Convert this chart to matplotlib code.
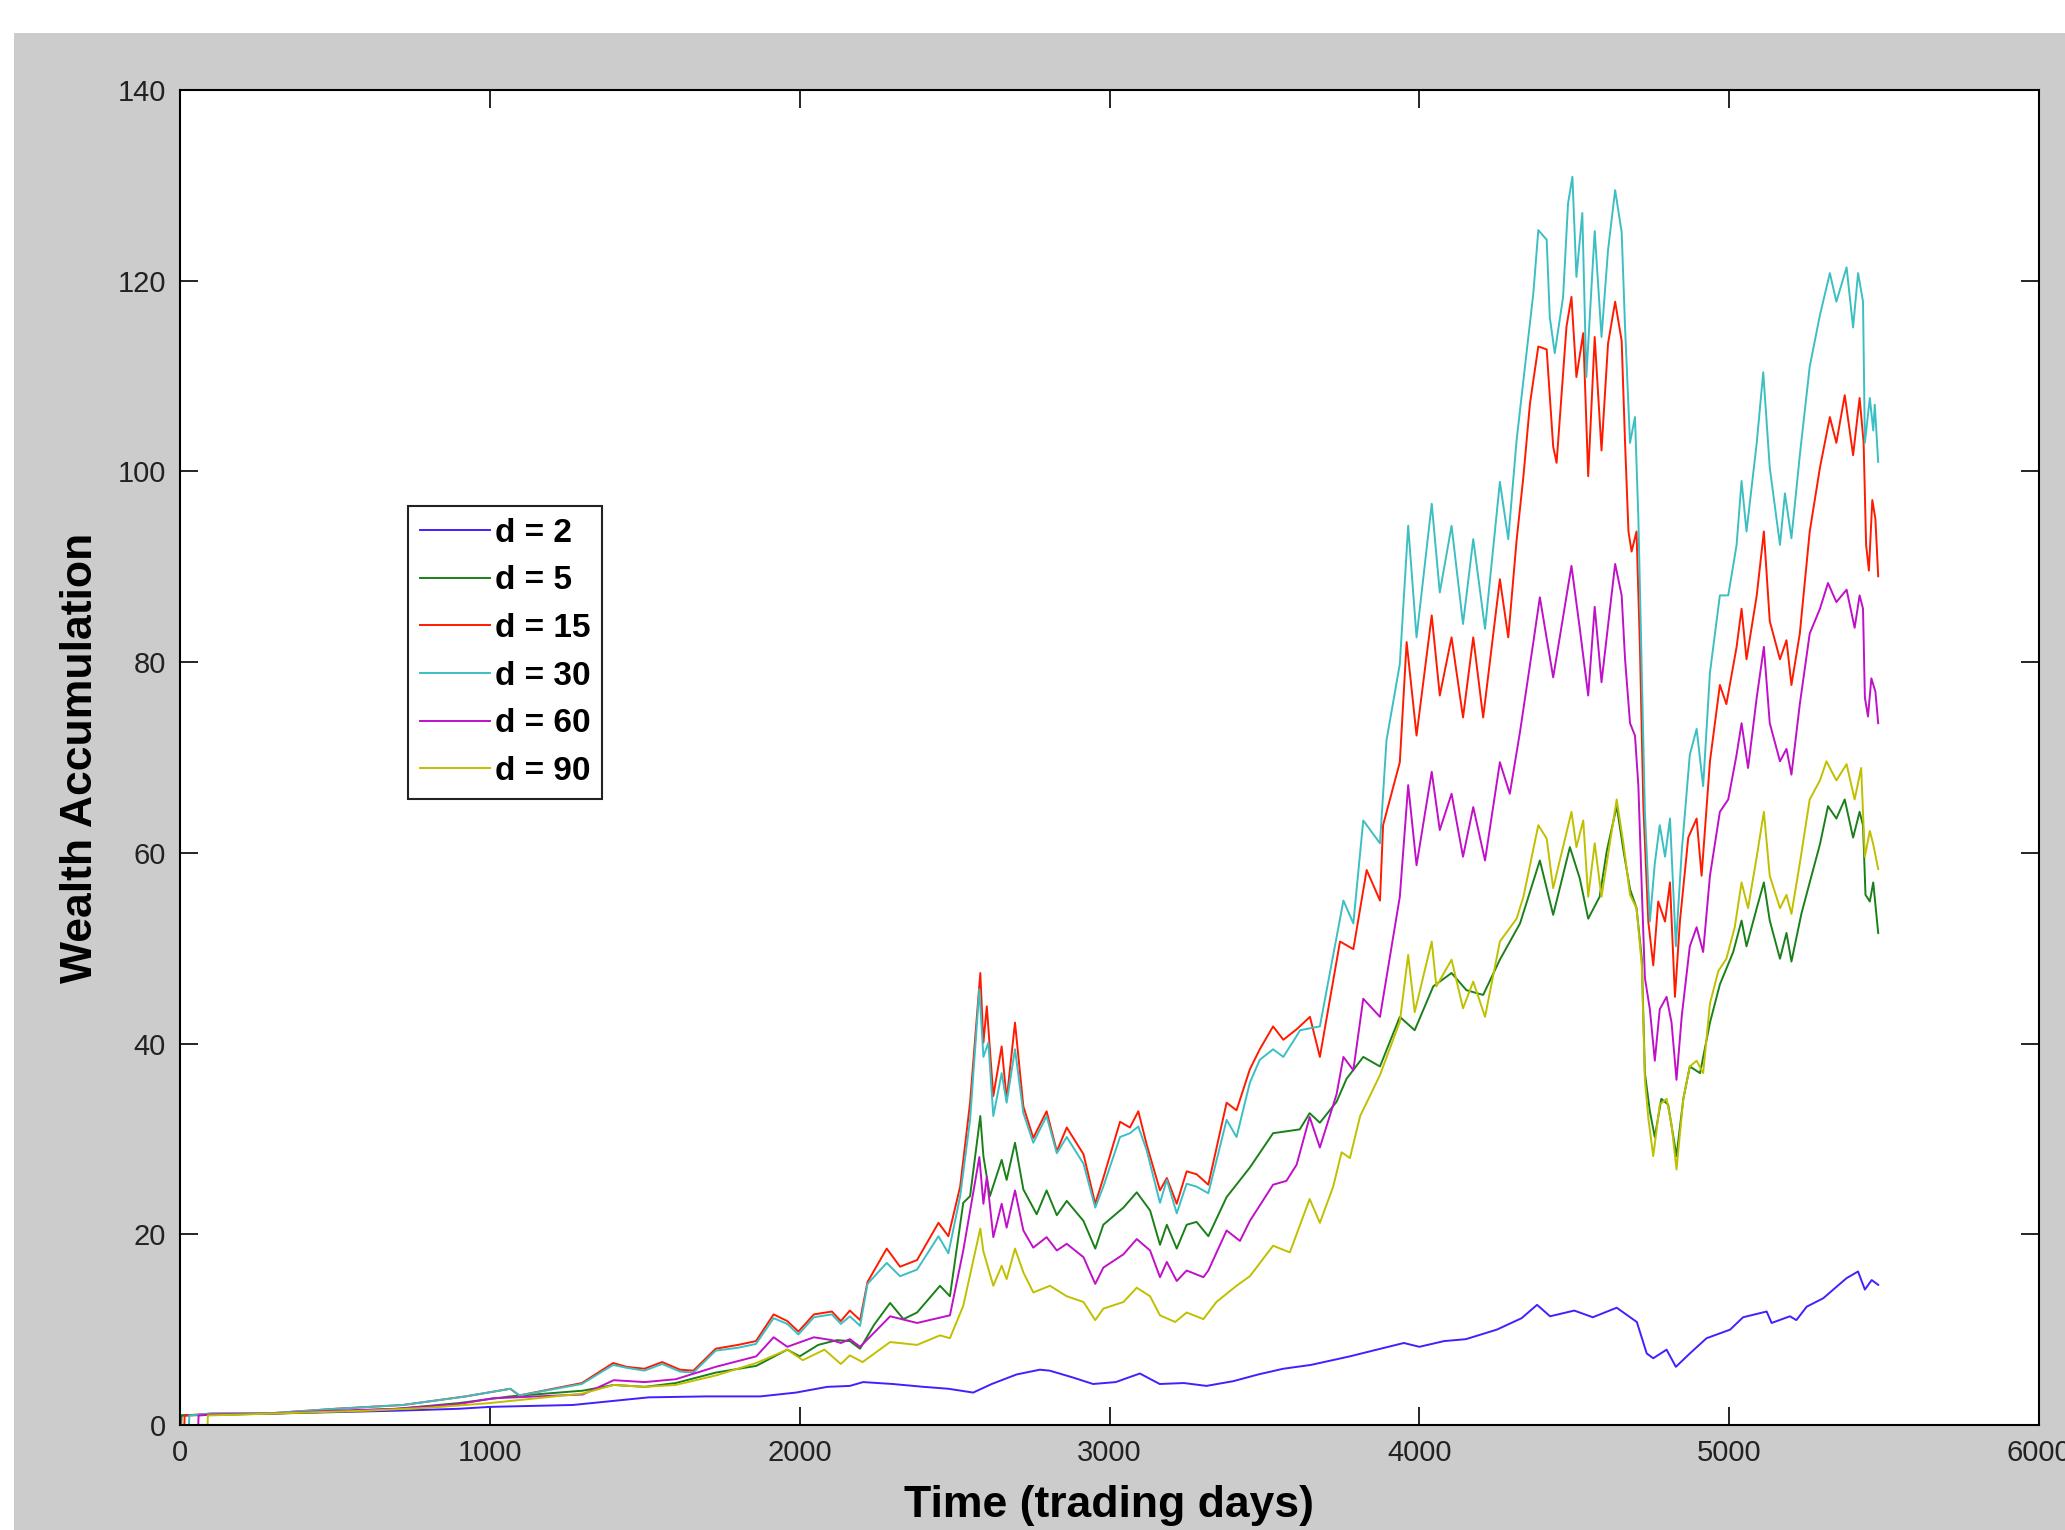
import matplotlib
matplotlib.use("Agg")
import matplotlib.pyplot as plt
from matplotlib.patches import Rectangle

plt.rcParams["font.family"] = ["Liberation Sans", "DejaVu Sans"]

# ---- data (trading day, wealth) ----
days_d2 = [0, 1, 2, 100, 300, 500, 700, 900, 1000, 1268, 1513, 1700, 1873, 1988, 2089, 2162,
           2205, 2300, 2400, 2480, 2560, 2620, 2700, 2775, 2807, 2880, 2947, 3020, 3098, 3162,
           3240, 3313, 3400, 3480, 3561, 3650, 3776, 3850, 3950, 4000, 4080, 4150, 4250, 4330,
           4380, 4422, 4500, 4560, 4637, 4702, 4734, 4755, 4798, 4828, 4873, 4927, 5003, 5045,
           5121, 5137, 5196, 5217, 5250, 5304, 5336, 5379, 5416, 5438, 5460, 5481]
wealth_d2 = [1, 0, 1, 1.1, 1.2, 1.35, 1.5, 1.7, 1.9, 2.1, 2.9, 3.0, 3.0, 3.4, 4.0, 4.1,
             4.5, 4.3, 4.0, 3.8, 3.4, 4.3, 5.3, 5.8, 5.7, 5.0, 4.3, 4.5, 5.4, 4.3,
             4.4, 4.1, 4.6, 5.3, 5.9, 6.3, 7.2, 7.8, 8.6, 8.2, 8.8, 9.0, 10.0, 11.2,
             12.6, 11.4, 12.0, 11.3, 12.3, 10.8, 7.5, 7.0, 7.9, 6.1, 7.5, 9.1, 10.0, 11.3,
             11.9, 10.7, 11.4, 11.0, 12.4, 13.3, 14.2, 15.4, 16.1, 14.2, 15.2, 14.7]

days_d5 = [0, 1, 4, 5, 100, 300, 500, 700, 900, 1066, 1300, 1400, 1500, 1600, 1730, 1860,
           1960, 2000, 2060, 2120, 2162, 2195, 2240, 2292, 2335, 2379, 2453, 2485, 2528, 2550,
           2583, 2593, 2614, 2652, 2668, 2695, 2722, 2765, 2797, 2830, 2862, 2916, 2954, 2980,
           3045, 3088, 3131, 3163, 3185, 3217, 3249, 3281, 3319, 3378, 3453, 3528, 3614, 3646,
           3679, 3733, 3765, 3819, 3873, 3937, 3985, 4045, 4104, 4152, 4206, 4260, 4325, 4389,
           4432, 4486, 4518, 4545, 4582, 4605, 4637, 4659, 4680, 4701, 4718, 4728, 4744, 4760,
           4781, 4803, 4830, 4852, 4873, 4906, 4938, 4970, 5013, 5040, 5056, 5089, 5112, 5131,
           5164, 5185, 5201, 5233, 5260, 5293, 5319, 5346, 5373, 5400, 5421, 5432, 5440, 5454,
           5465, 5481]
wealth_d5 = [1, 0, 0, 1, 1.05, 1.2, 1.4, 1.7, 2.3, 3.0, 3.6, 4.2, 4.0, 4.4, 5.5, 6.2,
             7.9, 7.2, 8.4, 8.9, 8.8, 8.0, 10.5, 12.8, 11.1, 11.8, 14.6, 13.5, 23.3, 24.0,
             32.4, 28.2, 24.0, 27.8, 25.7, 29.6, 24.7, 22.1, 24.6, 22.0, 23.5, 21.4, 18.5, 21.0,
             22.8, 24.4, 22.5, 18.9, 21.0, 18.5, 21.0, 21.3, 19.8, 23.9, 27.0, 30.6, 31.0, 32.7,
             31.7, 33.9, 36.3, 38.6, 37.6, 42.8, 41.4, 46.0, 47.4, 45.6, 45.1, 48.8, 52.6, 59.2,
             53.5, 60.6, 57.3, 53.1, 55.4, 60.2, 64.9, 60.2, 56.2, 54.2, 48.9, 36.9, 32.9, 30.2,
             34.2, 33.6, 28.2, 34.2, 37.6, 36.9, 42.2, 46.2, 49.6, 52.9, 50.2, 54.2, 56.9, 52.9,
             48.9, 51.6, 48.6, 53.6, 56.9, 60.9, 64.9, 63.6, 65.6, 61.6, 64.3, 62.9, 55.6, 54.9,
             56.9, 51.6]

days_d15 = [0, 1, 14, 15, 100, 300, 500, 720, 922, 1066, 1095, 1297, 1398, 1441, 1499, 1556,
            1614, 1657, 1729, 1801, 1859, 1916, 1960, 1996, 2046, 2104, 2133, 2162, 2195, 2219,
            2281, 2324, 2379, 2448, 2480, 2518, 2550, 2583, 2593, 2604, 2625, 2652, 2668, 2695,
            2722, 2754, 2797, 2830, 2862, 2916, 2954, 2980, 3034, 3066, 3093, 3120, 3163, 3185,
            3217, 3249, 3281, 3319, 3378, 3410, 3453, 3485, 3528, 3561, 3604, 3647, 3679, 3744,
            3787, 3830, 3873, 3883, 3937, 3959, 3991, 4040, 4066, 4104, 4141, 4174, 4206, 4260,
            4287, 4314, 4336, 4357, 4384, 4411, 4432, 4443, 4475, 4491, 4507, 4529, 4545, 4566,
            4588, 4609, 4632, 4653, 4664, 4675, 4685, 4701, 4712, 4723, 4739, 4755, 4771, 4793,
            4809, 4825, 4841, 4868, 4895, 4911, 4938, 4970, 4991, 5024, 5040, 5056, 5089, 5112,
            5131, 5164, 5185, 5201, 5228, 5260, 5293, 5325, 5346, 5373, 5400, 5421, 5434, 5442,
            5451, 5462, 5472, 5481]
wealth_d15 = [1, 0, 0, 1, 1.2, 1.25, 1.7, 2.1, 3.0, 3.8, 3.1, 4.4, 6.5, 6.1, 5.9, 6.6,
              5.8, 5.7, 8.0, 8.4, 8.8, 11.6, 10.9, 9.8, 11.6, 11.9, 10.9, 12.0, 11.0, 15.0,
              18.5, 16.6, 17.3, 21.2, 19.8, 25.0, 33.8, 47.4, 40.1, 43.9, 34.5, 39.7, 34.1, 42.2,
              33.4, 30.1, 32.9, 28.7, 31.2, 28.4, 23.2, 25.9, 31.8, 31.2, 32.9, 29.4, 24.6, 25.9,
              23.2, 26.6, 26.3, 25.2, 33.8, 33.0, 37.3, 39.4, 41.8, 40.4, 41.5, 42.8, 38.6, 50.7,
              49.9, 58.2, 55.0, 62.9, 69.5, 82.1, 72.3, 84.9, 76.5, 82.6, 74.2, 82.6, 74.2, 88.7,
              82.6, 92.8, 99.5, 107.1, 113.1, 112.8, 102.6, 100.9, 115.2, 118.3, 109.9, 114.5, 99.5, 114.1,
              102.2, 113.4, 117.8, 113.7, 103.0, 93.7, 91.6, 93.7, 81.6, 64.9, 52.8, 48.2, 54.9, 52.8,
              56.9, 44.9, 52.8, 61.6, 63.6, 57.6, 69.6, 77.6, 75.6, 81.6, 85.6, 80.3, 87.0, 93.7,
              84.3, 80.3, 82.3, 77.6, 83.0, 93.7, 100.4, 105.7, 103.0, 108.0, 101.7, 107.7, 103.0, 92.3,
              89.6, 97.0, 95.0, 89.0]

days_d30 = [0, 1, 29, 30, 100, 300, 504, 720, 922, 1066, 1095, 1297, 1398, 1441, 1499, 1556,
            1614, 1657, 1729, 1801, 1859, 1916, 1960, 1996, 2046, 2104, 2133, 2162, 2195, 2219,
            2281, 2324, 2379, 2448, 2480, 2518, 2550, 2580, 2593, 2609, 2625, 2652, 2668, 2695,
            2722, 2754, 2797, 2830, 2862, 2916, 2954, 2980, 3034, 3066, 3093, 3120, 3163, 3185,
            3217, 3249, 3281, 3319, 3378, 3410, 3453, 3485, 3528, 3561, 3604, 3615, 3679, 3755,
            3787, 3819, 3873, 3894, 3937, 3964, 3991, 4040, 4066, 4104, 4141, 4174, 4212, 4260,
            4287, 4314, 4347, 4368, 4384, 4411, 4421, 4437, 4464, 4480, 4494, 4507, 4526, 4539,
            4566, 4588, 4609, 4632, 4653, 4664, 4680, 4696, 4707, 4718, 4728, 4744, 4760, 4776,
            4793, 4809, 4828, 4847, 4873, 4895, 4916, 4938, 4970, 4997, 5024, 5040, 5056, 5089,
            5110, 5131, 5164, 5180, 5201, 5228, 5260, 5293, 5325, 5346, 5379, 5400, 5416, 5432,
            5438, 5454, 5465, 5470, 5481]
wealth_d30 = [1, 0, 0, 1, 1.2, 1.25, 1.7, 2.1, 3.0, 3.8, 3.1, 4.3, 6.3, 6.0, 5.7, 6.4,
              5.6, 5.5, 7.8, 8.1, 8.5, 11.2, 10.6, 9.5, 11.3, 11.6, 10.6, 11.4, 10.4, 14.8,
              17.0, 15.6, 16.3, 19.8, 18.0, 24.0, 32.0, 45.7, 38.6, 40.1, 32.4, 36.9, 33.8, 39.4,
              32.7, 29.6, 32.4, 28.5, 30.2, 27.4, 22.8, 25.0, 30.2, 30.6, 31.3, 28.8, 23.3, 25.7,
              22.2, 25.3, 25.0, 24.3, 32.0, 30.2, 35.9, 38.3, 39.4, 38.6, 40.8, 41.4, 41.8, 55.0,
              52.6, 63.4, 61.0, 71.8, 79.8, 94.3, 82.6, 96.6, 87.3, 94.3, 84.0, 92.9, 83.5, 98.9,
              92.9, 103.3, 112.7, 118.7, 125.3, 124.3, 116.2, 112.4, 118.3, 128.1, 130.9, 120.4, 127.1, 109.9,
              125.2, 114.1, 123.2, 129.5, 125.1, 115.1, 103.0, 105.7, 95.0, 78.9, 64.3, 52.8, 58.9, 62.9,
              59.6, 63.6, 50.2, 60.2, 70.3, 73.0, 67.0, 78.9, 87.0, 87.0, 92.3, 99.0, 93.7, 103.0,
              110.4, 100.4, 92.3, 97.7, 93.0, 101.7, 111.0, 116.4, 120.8, 117.8, 121.4, 115.1, 120.8, 117.8,
              103.0, 107.7, 104.3, 107.0, 101.0]

days_d60 = [0, 1, 59, 60, 100, 300, 500, 700, 900, 1009, 1300, 1400, 1500, 1600, 1729, 1860,
            1916, 1960, 2046, 2104, 2133, 2162, 2195, 2250, 2292, 2379, 2485, 2528, 2580, 2593,
            2604, 2625, 2652, 2668, 2695, 2722, 2754, 2797, 2830, 2862, 2916, 2954, 2980, 3045,
            3088, 3131, 3163, 3185, 3217, 3249, 3303, 3319, 3378, 3421, 3453, 3528, 3571, 3604,
            3646, 3679, 3733, 3755, 3787, 3819, 3873, 3937, 3964, 3991, 4040, 4066, 4104, 4141,
            4174, 4212, 4260, 4292, 4325, 4368, 4389, 4432, 4491, 4518, 4545, 4566, 4588, 4632,
            4653, 4664, 4680, 4696, 4707, 4718, 4728, 4744, 4760, 4776, 4798, 4814, 4830, 4847,
            4873, 4895, 4916, 4938, 4970, 4997, 5024, 5040, 5061, 5089, 5112, 5131, 5164, 5185,
            5201, 5228, 5260, 5293, 5319, 5346, 5379, 5405, 5421, 5432, 5438, 5448, 5459, 5472,
            5481]
wealth_d60 = [1, 0, 0, 1, 1.1, 1.2, 1.5, 1.7, 2.2, 2.8, 3.2, 4.7, 4.5, 4.8, 6.1, 7.2,
              9.2, 8.2, 9.2, 8.9, 8.6, 9.0, 8.2, 10.0, 11.4, 10.7, 11.5, 18.3, 28.1, 23.2,
              26.0, 19.7, 23.2, 20.7, 24.6, 20.4, 18.6, 19.7, 18.3, 19.0, 17.6, 14.8, 16.5, 17.9,
              19.5, 18.3, 15.5, 17.1, 15.1, 16.2, 15.5, 16.2, 20.4, 19.3, 21.4, 25.2, 25.6, 27.3,
              32.3, 29.1, 34.7, 38.6, 37.2, 44.7, 42.8, 55.4, 67.1, 58.7, 68.5, 62.4, 66.2, 59.6,
              64.8, 59.2, 69.5, 66.2, 72.7, 82.1, 86.8, 78.4, 90.1, 83.5, 76.5, 85.8, 77.9, 90.3,
              87.0, 80.3, 73.6, 72.3, 67.0, 56.2, 46.9, 43.6, 38.2, 43.6, 44.9, 42.2, 36.2, 42.9,
              50.2, 52.2, 49.6, 57.6, 64.3, 65.6, 70.3, 73.6, 68.9, 76.3, 81.6, 73.6, 69.6, 70.9,
              68.2, 75.6, 83.0, 85.6, 88.3, 86.3, 87.6, 83.6, 87.0, 85.6, 76.3, 74.3, 78.3, 76.9,
              73.6]

days_d90 = [0, 1, 89, 90, 200, 400, 600, 800, 1000, 1300, 1400, 1500, 1600, 1730, 1860, 1960,
            2010, 2080, 2133, 2162, 2203, 2292, 2379, 2453, 2485, 2528, 2583, 2593, 2625, 2652,
            2668, 2695, 2722, 2754, 2808, 2862, 2916, 2954, 2980, 3045, 3088, 3131, 3163, 3212,
            3249, 3303, 3345, 3410, 3453, 3528, 3582, 3646, 3679, 3722, 3749, 3776, 3809, 3873,
            3937, 3964, 3985, 4040, 4055, 4104, 4141, 4174, 4212, 4260, 4314, 4336, 4384, 4411,
            4432, 4491, 4507, 4529, 4545, 4566, 4588, 4637, 4659, 4680, 4701, 4718, 4728, 4739,
            4755, 4776, 4798, 4814, 4830, 4852, 4873, 4895, 4916, 4938, 4965, 4991, 5018, 5040,
            5061, 5089, 5112, 5131, 5164, 5185, 5201, 5228, 5260, 5293, 5314, 5346, 5379, 5405,
            5426, 5438, 5454, 5465, 5481]
wealth_d90 = [1, 0, 0, 1, 1.1, 1.3, 1.5, 1.8, 2.3, 3.3, 4.2, 4.0, 4.2, 5.2, 6.5, 7.9,
              6.8, 7.9, 6.4, 7.3, 6.6, 8.7, 8.4, 9.4, 9.1, 12.5, 20.6, 18.2, 14.6, 16.7,
              15.3, 18.5, 16.0, 13.9, 14.6, 13.5, 12.9, 11.0, 12.2, 12.9, 14.4, 13.5, 11.5, 10.8,
              11.8, 11.1, 12.9, 14.6, 15.6, 18.8, 18.1, 23.7, 21.2, 25.0, 28.6, 28.0, 32.4, 36.7,
              42.3, 49.3, 43.3, 50.7, 46.0, 48.8, 43.7, 46.5, 42.8, 50.7, 53.1, 55.4, 62.9, 61.5,
              56.3, 64.3, 60.6, 63.4, 55.4, 61.0, 55.4, 65.6, 60.9, 55.6, 54.2, 48.2, 36.2, 32.2,
              28.2, 33.6, 34.2, 31.5, 26.8, 34.2, 37.6, 38.2, 36.9, 44.2, 47.6, 48.9, 52.2, 56.9,
              54.2, 59.6, 64.3, 57.6, 54.2, 55.6, 53.6, 58.9, 65.6, 67.6, 69.6, 67.6, 69.3, 65.6,
              68.9, 59.6, 62.3, 60.9, 58.3]

labels = ["d = 2", "d = 5", "d = 15", "d = 30", "d = 60", "d = 90"]
colors = ["#4020ff", "#1a801a", "#ff1a00", "#3cbfc3", "#c010c8", "#c0c000"]


def main():
    fig = plt.figure(figsize=(20.65, 15.3), dpi=100, facecolor="white")
    # gray MATLAB figure background (white strip on top / left)
    fig.patches.append(Rectangle((14 / 2065, 0), 1, 1 - 33 / 1530,
                                 transform=fig.transFigure, facecolor="#cccccc",
                                 edgecolor="none", zorder=-10))

    ax = fig.add_axes([180 / 2065, 1 - 1425 / 1530, (2039 - 180) / 2065, (1425 - 90) / 1530])
    ax.set_facecolor("white")

    series = [(days_d2, wealth_d2), (days_d5, wealth_d5), (days_d15, wealth_d15),
              (days_d30, wealth_d30), (days_d60, wealth_d60), (days_d90, wealth_d90)]
    for (d, w), lab, col in zip(series, labels, colors):
        ax.plot(d, w, color=col, lw=1.4, label=lab)

    ax.set_xlim(0, 6000)
    ax.set_ylim(0, 140)
    ax.set_xticks(range(0, 6001, 1000))
    ax.set_yticks(range(0, 141, 20))
    ax.tick_params(direction="in", length=13, width=1.2, top=True, right=True,
                   labelsize=21, labelcolor="#222222", pad=10)
    for sp in ax.spines.values():
        sp.set_linewidth(1.5)
        sp.set_color("black")

    ax.set_xlabel("Time (trading days)", fontsize=32, fontweight="bold", labelpad=13)
    ax.set_ylabel("Wealth Accumulation", fontsize=32, fontweight="bold", labelpad=12)

    leg = ax.legend(loc="upper left", bbox_to_anchor=((408 - 180) / 1859, (1425 - 506) / 1335),
                    fancybox=False, framealpha=1, edgecolor="#222222",
                    prop={"size": 24, "weight": "bold"}, handlelength=2.1,
                    handletextpad=0.15, labelspacing=0.5, borderpad=0.35,
                    borderaxespad=0)
    leg.get_frame().set_linewidth(1.5)

    fig.savefig("out.png", dpi=100, facecolor=fig.get_facecolor())


if __name__ == "__main__":
    main()
